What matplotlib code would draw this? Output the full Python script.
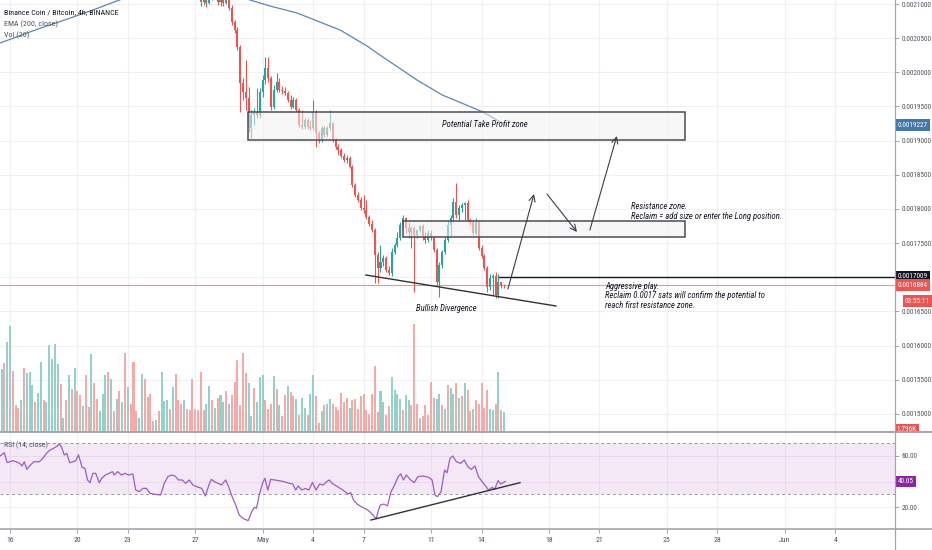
import numpy as np
import matplotlib
matplotlib.use("Agg")
import matplotlib.pyplot as plt
from matplotlib import font_manager as fm
from matplotlib.transforms import blended_transform_factory as btf, Bbox, TransformedBbox
from matplotlib.lines import Line2D
from matplotlib.patches import Rectangle

# ---------------- data (prices in satoshi, x = 4h candle index from Apr 16 00:00) -------------
candle_start = 66
opens = [211757, 211464, 211172, 210293, 210879, 210147, 210732, 211464, 211757, 210293,
         210879, 210147, 210586, 209415, 207365, 206194, 203705, 198434, 197116, 196238,
         191846, 193749, 194188, 193749, 197116, 198873, 200630, 199166, 194920, 197409,
         198580, 197409, 197263, 196970, 195945, 194920, 195945, 194481, 192285, 191992,
         193017, 191992, 191846, 194188, 191113, 190088, 191846, 190821, 191846, 192578,
         190088, 189064, 188624, 187746, 187160, 187453, 186135, 183500, 182036, 181304,
         180132, 179840, 178814, 177790, 176911, 173251, 171348, 172226, 172812, 171055,
         170616, 173690, 174716, 175740, 177644, 178668, 177204, 176619, 177204, 176179,
         176911, 177497, 176033, 175446, 176472, 175740, 173983, 169298, 171787, 173690,
         175446, 177644, 178668, 181011, 179107, 180132, 180571, 180864, 178376, 178083,
         176472, 178083, 174276, 173105, 171348, 168566, 169883, 170176, 167395, 169298,
         168859]
highs = [212782, 211757, 211464, 211025, 211025, 211025, 211757, 212782, 211757, 211025,
         211025, 210879, 210879, 209854, 207658, 206633, 203997, 199166, 201801, 197848,
         194481, 194774, 197702, 197702, 199605, 202241, 202241, 199459, 198141, 199898,
         199166, 197995, 197848, 197263, 196677, 196384, 196238, 194774, 194481, 193310,
         193310, 193017, 195945, 194481, 191406, 192138, 192138, 192138, 194481, 192724,
         190381, 189503, 188917, 188185, 187892, 187746, 186428, 183793, 182475, 181743,
         182036, 181304, 179107, 178376, 177204, 173690, 174716, 173251, 173105, 171641,
         174276, 175007, 176619, 178083, 179107, 178814, 178083, 177497, 177497, 176911,
         177644, 177790, 176619, 176911, 176911, 176033, 174276, 172226, 173983, 176033,
         178376, 179107, 181597, 183793, 180571, 180864, 181011, 181304, 178668, 178376,
         178668, 178376, 174716, 173397, 171641, 170469, 170469, 170762, 170469, 169298,
         169005]
lows = [211025, 210732, 209707, 209854, 209561, 210000, 210586, 211025, 209854, 209707,
        209707, 210000, 209122, 206926, 205754, 203265, 194188, 195945, 194481, 191260,
        190381, 192285, 193310, 193310, 196384, 198288, 198580, 194481, 194627, 197116,
        197116, 196823, 196677, 195652, 194627, 194774, 194188, 191992, 191699, 191699,
        191699, 191553, 191553, 189064, 189649, 189796, 190528, 190528, 191553, 189796,
        188771, 187892, 187453, 186868, 186721, 185989, 183207, 181743, 181011, 179840,
        179400, 178521, 177497, 176619, 169152, 169152, 170762, 171641, 170762, 170323,
        170176, 173397, 174422, 175446, 177204, 176472, 175740, 174276, 167834, 175740,
        176619, 175446, 175007, 175154, 175446, 173690, 168859, 167102, 171348, 173397,
        175154, 176033, 178083, 178668, 178376, 179547, 178376, 178083, 177644, 176179,
        176179, 173983, 172812, 171055, 167834, 168127, 167395, 166955, 166955, 168420,
        168420]
closes = [211464, 211172, 210293, 210879, 210147, 210732, 211464, 211757, 210293, 210879,
          210147, 210586, 209415, 207365, 206194, 203705, 198434, 197116, 196238, 191846,
          193749, 194188, 193749, 197116, 198873, 200630, 199166, 194920, 197409, 198580,
          197409, 197263, 196970, 195945, 194920, 195945, 194481, 192285, 191992, 193017,
          191992, 191846, 194188, 191113, 190088, 191846, 190821, 191846, 192578, 190088,
          189064, 188624, 187746, 187160, 187453, 186135, 183500, 182036, 181304, 180132,
          179840, 178814, 177790, 176911, 173251, 171348, 172226, 172812, 171055, 170616,
          173690, 174716, 175740, 177644, 178668, 177204, 176619, 177204, 176179, 176911,
          177497, 176033, 175446, 176472, 175740, 173983, 169298, 171787, 173690, 175446,
          177644, 178668, 181011, 179107, 180132, 180571, 180864, 178376, 178083, 176472,
          178083, 174276, 173105, 171348, 168566, 169883, 170176, 167395, 169298, 168859,
          168840]

vol_last_index = 176
vol_k = [4.40, 5.63, 6.20, 8.08, 9.52, 5.45, 2.46, 2.19, 2.90, 5.69,
         5.30, 5.39, 4.19, 2.66, 3.50, 6.29, 2.84, 2.72, 7.78, 6.53,
         7.87, 6.08, 4.28, 1.29, 2.84, 5.09, 3.89, 5.69, 3.68, 3.35,
         2.37, 5.09, 2.28, 6.95, 4.37, 2.96, 1.86, 3.38, 5.09, 5.39,
         4.76, 1.89, 2.99, 3.68, 2.66, 7.04, 4.04, 2.49, 6.29, 1.86,
         1.26, 5.24, 4.73, 3.14, 3.44, 0.96, 1.05, 1.86, 5.39, 2.78,
         2.84, 2.04, 4.07, 5.24, 2.84, 2.49, 2.84, 2.10, 1.95, 4.79,
         2.04, 1.95, 5.39, 1.95, 2.49, 4.10, 2.84, 2.16, 3.05, 3.29,
         2.69, 3.68, 2.49, 3.29, 4.49, 6.44, 2.46, 7.04, 5.30, 4.40,
         1.41, 3.98, 2.66, 4.94, 5.15, 2.84, 2.10, 2.54, 5.00, 3.86,
         2.40, 1.41, 3.29, 4.10, 3.62, 3.20, 2.99, 1.50, 3.08, 2.19,
         1.50, 3.44, 5.09, 3.20, 0.84, 1.86, 2.46, 2.54, 2.99, 2.49,
         2.25, 2.01, 3.53, 2.69, 3.08, 2.19, 2.84, 2.99, 2.10, 3.20,
         3.38, 2.01, 1.65, 3.38, 5.93, 1.80, 3.65, 2.69, 1.50, 2.31,
         4.94, 3.80, 3.44, 2.99, 1.95, 3.29, 2.90, 2.40, 9.67, 2.54,
         1.29, 1.41, 2.40, 1.50, 4.49, 3.08, 2.99, 3.44, 2.40, 2.10,
         4.19, 3.98, 3.38, 4.40, 3.08, 3.20, 4.40, 3.74, 1.86, 2.10,
         2.90, 2.54, 4.40, 2.19, 3.74, 2.07, 2.01, 2.49, 5.39, 2.01,
         1.80]
vol_dir = ("rgrggrrrgr" "gggrggrggg" "ggrgrgrgrr" "grrgrrgggr" "grgrgrgrrr"
           "ggrrrrgrgg" "grgrrrgrrr" "rrrrggrgrg" "grgrrrrrrg" "grgggrrrgr"
           "grrgrrgrgg" "rggrrgrggr" "rrrrrgrrrr" "rrrrrrggrr" "ggggrggrrr"
           "grrrrrggrg" "rggrgrgrrg" "rrrrrggrgr" "g")

rsi_idx = [-3.56, -2.03, -1.02, 0.89, 2.17, 3.44, 4.33, 5.09, 5.98, 7.25,
           8.53, 10.43, 11.71, 12.98, 14.25, 15.52, 16.80, 17.43, 18.32, 19.34,
           20.23, 21.25, 22.52, 23.41, 24.43, 25.70, 26.72, 27.61, 28.50, 29.52,
           30.54, 31.81, 32.70, 33.97, 35.24, 36.52, 37.15, 38.42, 39.70, 40.97,
           42.24, 43.77, 44.79, 46.06, 47.33, 48.60, 49.88, 51.78, 53.69, 54.96,
           56.24, 57.51, 58.78, 60.05, 61.33, 62.60, 63.87, 65.14, 66.41, 68.32,
           69.60, 70.87, 71.76, 72.78, 74.05, 75.32, 76.85, 77.87, 79.14, 80.41,
           81.68, 82.95, 84.86, 86.13, 87.03, 87.79, 88.68, 89.95, 90.84, 91.86,
           92.88, 94.40, 95.68, 97.59, 99.49, 100.76, 101.78, 102.67, 103.95, 105.22,
           106.49, 107.76, 109.03, 110.31, 111.58, 112.85, 113.74, 114.76, 116.67, 118.58,
           120.49, 121.38, 122.39, 123.67, 125.58, 127.48, 129.39, 130.41, 131.30, 131.94,
           133.21, 134.48, 135.75, 137.03, 138.30, 139.19, 140.20, 141.22, 142.75, 144.02,
           145.29, 147.20, 149.11, 150.38, 151.40, 152.29, 153.56, 154.84, 155.73, 156.75,
           157.76, 159.04, 160.56, 161.83, 163.11, 164.38, 165.65, 166.92, 168.19, 169.47,
           170.48, 171.76, 172.65, 173.92, 174.81, 176.5]
rsi_val = [60.0, 62.6, 54.8, 56.3, 55.5, 54.2, 52.2, 55.5, 49.5, 52.9,
           55.5, 55.5, 58.2, 62.1, 64.7, 66.0, 67.8, 69.4, 67.3, 60.8,
           62.1, 54.8, 55.5, 56.3, 60.8, 51.1, 50.3, 41.2, 39.1, 46.4,
           46.4, 39.1, 42.5, 45.1, 46.4, 47.7, 45.1, 47.7, 45.1, 46.4,
           45.1, 45.9, 33.3, 32.0, 34.6, 34.6, 30.7, 29.9, 29.4, 38.6,
           43.8, 45.1, 44.3, 41.2, 41.2, 38.6, 41.2, 37.3, 36.0, 34.6,
           28.6, 37.3, 41.7, 39.9, 38.6, 37.3, 41.2, 36.0, 28.1, 21.6,
           13.7, 11.1, 9.3, 16.3, 19.7, 19.0, 28.1, 38.6, 42.5, 33.3,
           41.7, 41.2, 40.7, 39.9, 38.6, 38.0, 33.3, 36.5, 33.3, 34.6,
           33.3, 39.3, 33.3, 38.0, 37.3, 39.9, 41.2, 38.6, 36.0, 33.3,
           30.2, 31.2, 25.5, 22.3, 19.7, 17.6, 13.7, 10.6, 17.6, 21.6,
           22.3, 20.8, 32.0, 37.3, 43.8, 45.9, 41.2, 45.1, 41.2, 39.1,
           43.8, 44.3, 43.3, 41.2, 29.4, 28.1, 32.0, 49.0, 46.9, 58.2,
           60.0, 55.5, 54.2, 56.9, 51.6, 49.5, 52.2, 43.8, 39.9, 36.5,
           33.3, 35.4, 33.9, 40.7, 38.0, 40.05]

ema_idx = [-3.56, 10, 20, 30, 38, 42, 50, 65, 78, 85.5, 92.6, 102.3, 117.6, 127.2,
           131.8, 145, 154, 168.5, 176.5]
ema_sats = [204290, 206340, 207730, 209190, 210440, 211020, 212050, 212640, 211460,
            210590, 209710, 208680, 206190, 203850, 202530, 198870, 196680, 194190, 192270]

price_ticks = [0.0015, 0.00155, 0.0016, 0.00165, 0.0017, 0.00175, 0.0018, 0.00185,
               0.0019, 0.00195, 0.0020, 0.00205, 0.0021]
date_tick_idx = [0, 24, 42, 66, 90, 108, 126, 150, 168, 192, 210, 234, 252, 276, 294]
date_tick_lbl = ["16", "20", "23", "27", "May", "4", "7", "11", "14", "18", "21",
                 "25", "28", "Jun", "4"]
rsi_ticks = [20, 40, 60]

last_price = 0.0016884
ema_last = 0.0019227
aggr_level = 0.0017009
countdown = "03:55:11"
countdown_level = 0.00166515
rsi_last = 40.05
vol_last = "1.796K"

tp_zone_x = (84.8, 240.5)
tp_zone_y = (0.0019002, 0.0019419)
res_zone_x = (140.0, 240.5)
res_zone_y = (0.0017584, 0.0017827)
aggr_x0 = 174.2
div_x = [126.8, 194.5]
div_y = [0.00170323, 0.00165785]
rsi_div_x = [128.6, 181.7]
rsi_div_y = [9.8, 39.1]
arrows = [((177.4, 0.00168274), (186.7, 0.00182182)),
          ((191.3, 0.00182182), (202.0, 0.00176619)),
          ((206.6, 0.00176911), (216.2, 0.00190674))]

txt_tp = ("Potential Take Profit zone", 169.2, 0.0019243)
txt_div = ("Bullish Divergence", 155.3, 0.0016549)
txt_res = ("Resistance zone.\nReclaim = add size or enter the Long position.", 221.2, 0.0017962)
txt_aggr = ("Aggressive play.\nReclaim 0.0017 sats will confirm the potential to\n"
            "reach first resistance zone.", 212.0, 0.0016725)

# ---------------- fonts -------------
def pick_narrow():
    names = {f.name for f in fm.fontManager.ttflist}
    for cand in ["Liberation Sans Narrow", "Roboto Condensed", "Open Sans Condensed",
                 "Noto Sans Condensed", "DejaVu Sans Condensed", "Arial Narrow"]:
        if cand in names:
            return cand, "normal"
    for fam in ["Noto Sans", "Open Sans", "Roboto", "DejaVu Sans"]:
        for f in fm.fontManager.ttflist:
            if f.name == fam and str(f.stretch) in ("condensed", "semi-condensed"):
                return fam, "condensed"
    return "Roboto", "normal"

FONT, STRETCH = pick_narrow()
plt.rcParams["font.family"] = [FONT, "DejaVu Sans"]
plt.rcParams["font.stretch"] = STRETCH

GREEN = "#26a69a"
RED = "#ef5350"
VGREEN = "#92d2cb"
VRED = "#f6a9a7"
GRID = "#eef0f4"
FRAME = "#a3a6af"
TXT = "#131722"
LBL = "#50535e"
AXFS = 5.2

# ---------------- figure -------------
W, H, DPI = 932, 550, 100
fig = plt.figure(figsize=(W / DPI, H / DPI), dpi=DPI)
fig.patch.set_facecolor("white")
AXR = 895 / W
main_rect = [0, 1 - 432 / H, AXR, 432 / H]
rsi_rect = [0, 1 - 529 / H, AXR, 97 / H]

axv = fig.add_axes(main_rect)
ax = fig.add_axes(main_rect, sharex=axv)
axr = fig.add_axes(rsi_rect, sharex=axv)

XMIN, XMAX = -3.56, 315.3
ax.set_xlim(XMIN, XMAX)
ax.set_ylim(0.00147337, 0.00210586)
axv.set_ylim(0, 38.7)
axr.set_ylim(2.75, 78.82)

# volume axes (background)
axv.set_axis_off()
tr_grid = btf(axv.transAxes, ax.transData)
for p in price_ticks:
    axv.add_line(Line2D([0, 1], [p, p], transform=tr_grid, color=GRID, lw=0.8, zorder=0))
for xi in date_tick_idx:
    axv.axvline(xi, color=GRID, lw=0.8, zorder=0)
vidx = np.arange(vol_last_index - len(vol_k) + 1, vol_last_index + 1)
vcol = [VGREEN if d == "g" else VRED for d in vol_dir]
axv.bar(vidx, vol_k, width=0.72, color=vcol, linewidth=0, zorder=2)

# main price axes
ax.patch.set_alpha(0)
for s in ax.spines.values():
    s.set_visible(False)
ax.yaxis.tick_right()
ax.set_yticks(price_ticks)
ax.set_yticklabels(["" if abs(p - 0.0017) < 1e-9 else f"{p:.7f}" for p in price_ticks])
ax.tick_params(axis="y", direction="out", length=3, width=0.7, color=FRAME,
               labelsize=AXFS, labelcolor=LBL, pad=1.5)
ax.tick_params(axis="x", length=0, labelbottom=False)

idx = np.arange(candle_start, candle_start + len(closes))
o = np.array(opens) / 1e8
h = np.array(highs) / 1e8
l = np.array(lows) / 1e8
c = np.array(closes) / 1e8
col = np.where(c >= o, GREEN, RED)
ax.axhline(last_price, color="#f4928f", lw=0.8, zorder=2)
ax.vlines(idx, l, h, colors=col, lw=0.8, zorder=3)
ax.bar(idx, np.maximum(np.abs(c - o), 8e-7), bottom=np.minimum(o, c), width=0.72,
       color=col, linewidth=0, zorder=4)

ax.plot(ema_idx, np.array(ema_sats) / 1e8, color="#5a86b5", lw=0.9, zorder=3)

ax.add_patch(Rectangle((tp_zone_x[0], tp_zone_y[0]), tp_zone_x[1] - tp_zone_x[0],
                       tp_zone_y[1] - tp_zone_y[0], fc=(0.95, 0.95, 0.95, 0.55),
                       ec="#4a4d55", lw=1.1, zorder=5))
ax.add_patch(Rectangle((res_zone_x[0], res_zone_y[0]), res_zone_x[1] - res_zone_x[0],
                       res_zone_y[1] - res_zone_y[0], fc=(0.95, 0.95, 0.95, 0.55),
                       ec="#4a4d55", lw=1.1, zorder=5))
ax.plot([aggr_x0, XMAX], [aggr_level, aggr_level], color=TXT, lw=1.0, zorder=6)
ax.plot(div_x, div_y, color="#2f323b", lw=1.0, zorder=6)
for (x0, y0), (x1, y1) in arrows:
    ax.annotate("", xy=(x1, y1), xytext=(x0, y0),
                arrowprops=dict(arrowstyle="->,head_length=0.45,head_width=0.22",
                                color="#3a3e48", lw=0.8, shrinkA=0, shrinkB=0), zorder=6)

tk = dict(fontsize=6.2, fontstyle="italic", color=TXT, zorder=7)
ax.text(txt_tp[1], txt_tp[2], txt_tp[0], ha="center", va="center", **tk)
ax.text(txt_div[1], txt_div[2], txt_div[0], ha="center", va="center", **tk)
ax.text(txt_res[1], txt_res[2], txt_res[0], ha="left", va="center", linespacing=1.05, **tk)
ax.text(txt_aggr[1], txt_aggr[2], txt_aggr[0], ha="left", va="center", linespacing=1.05, **tk)

# legend texts
ax.text(0.0045, 0.972, "Binance Coin / Bitcoin, 4h, BINANCE", transform=ax.transAxes,
        fontsize=5.8, color=TXT, va="center", ha="left", zorder=8)
ax.text(0.0045, 0.944, "EMA (200, close)", transform=ax.transAxes,
        fontsize=5.8, color=LBL, va="center", ha="left", zorder=8)
ax.text(0.0045, 0.918, "Vol (20)", transform=ax.transAxes,
        fontsize=5.8, color=LBL, va="center", ha="left", zorder=8)

# right-side value labels
tr_main = btf(ax.transAxes, ax.transData)
def value_label(axis, tr, y, txt, fc, x=1.003):
    return axis.text(x, y, txt, transform=tr, ha="left", va="center", fontsize=AXFS,
                     color="white", clip_on=False, zorder=20,
                     bbox=dict(boxstyle="square,pad=0.3", fc=fc, ec="none"))

value_label(ax, tr_main, ema_last, f"{ema_last:.7f}", "#3f78ad")
value_label(ax, tr_main, aggr_level, f"{aggr_level:.7f}", TXT)
value_label(ax, tr_main, last_price, f"{last_price:.7f}", RED)
value_label(ax, tr_main, countdown_level, countdown, RED, x=1.011)
vt = value_label(axv, btf(axv.transAxes, axv.transData), 0.25, vol_last, RED, x=1.002)
vt.set_clip_box(TransformedBbox(Bbox([[AXR, 1 - 432 / H], [1, 1]]), fig.transFigure))
vt.set_clip_on(True)

# RSI pane
axr.patch.set_alpha(0)
for s in axr.spines.values():
    s.set_visible(False)
axr.set_axisbelow(True)
axr.yaxis.tick_right()
axr.set_yticks(rsi_ticks)
axr.set_yticklabels(["" if v == 40 else f"{v:.2f}" for v in rsi_ticks])
axr.tick_params(axis="y", direction="out", length=3, width=0.7, color=FRAME,
                labelsize=AXFS, labelcolor=LBL, pad=1.5)
axr.set_xticks(date_tick_idx)
axr.set_xticklabels(date_tick_lbl)
axr.tick_params(axis="x", direction="out", length=3, width=0.7, color=FRAME,
                labelsize=5.6, labelcolor=LBL, pad=3)
axr.grid(True, color=GRID, lw=0.8)
axr.axhspan(30, 70, color="#9c27b0", alpha=0.1, lw=0, zorder=1)
axr.axhline(70, color="#9598a1", lw=0.7, ls=(0, (3, 3)), zorder=2)
axr.axhline(30, color="#9598a1", lw=0.7, ls=(0, (3, 3)), zorder=2)
axr.plot(rsi_idx, rsi_val, color="#9c5bc8", lw=0.9, zorder=3)
axr.plot(rsi_div_x, rsi_div_y, color="#2f323b", lw=1.0, zorder=4)
axr.text(0.0045, 0.866, "RSI (14, close)", transform=axr.transAxes, fontsize=5.6,
         color=LBL, va="center", ha="left", zorder=8)
value_label(axr, btf(axr.transAxes, axr.transData), rsi_last, f"{rsi_last:.2f}", "#8e24aa")

# pane frame lines
fig.add_artist(Line2D([AXR, AXR], [0, 1], transform=fig.transFigure, color=FRAME, lw=0.9))
fig.add_artist(Line2D([0, 1], [1 - 432 / H] * 2, transform=fig.transFigure, color=FRAME, lw=1.4))
fig.add_artist(Line2D([0, 1], [1 - 529 / H] * 2, transform=fig.transFigure, color=FRAME, lw=1.2))

fig.savefig("out.png", dpi=DPI, facecolor="white")
